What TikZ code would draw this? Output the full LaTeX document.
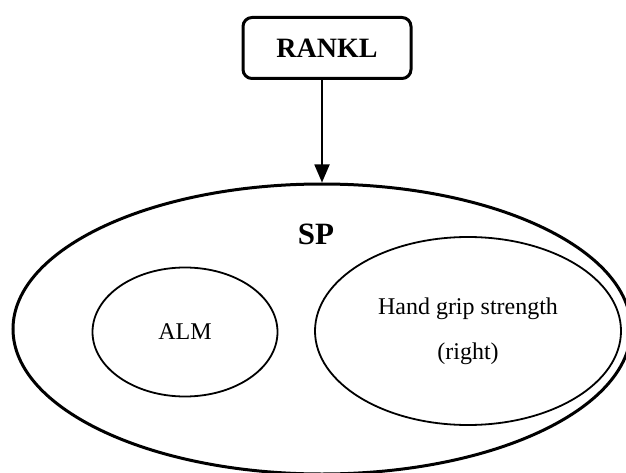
\documentclass[tikz,border=0pt]{standalone}
\usepackage{fontspec}
\setmainfont{Liberation Serif}
\usetikzlibrary{shapes.geometric,arrows.meta}

\begin{document}
\begin{tikzpicture}[x=1pt,y=-1pt,
  rbox/.style={draw,line width=3pt,rounded corners=9pt,minimum width=168pt,minimum height=61pt,font=\fontsize{28}{32}\selectfont\bfseries},
  oval/.style={draw,ellipse,inner sep=0pt,line width=1.8pt,font=\fontsize{24}{45}\selectfont,align=center}]
\useasboundingbox (0,0) rectangle (626,473);
\clip (0,0) rectangle (626,473);
\fill[white] (0,0) rectangle (626,473);

\node[rbox] (rankl) at (327,48) {RANKL};

% outer set
\node[oval,line width=3pt,minimum width=618pt,minimum height=290pt] (sp) at (322,329) {};
\node[font=\fontsize{31}{36}\selectfont\bfseries] (splabel) at (316,234) {SP};

\node[oval,minimum width=185pt,minimum height=129pt] (alm) at (185,332) {ALM};
\node[oval,minimum width=306pt,minimum height=188pt] (hgs) at (468,331) {Hand grip strength\\(right)};

\draw[line width=1.8pt,-{Triangle[length=18pt,width=15pt]}] (rankl.south -| sp.north) -- (sp.north);
\end{tikzpicture}
\end{document}
